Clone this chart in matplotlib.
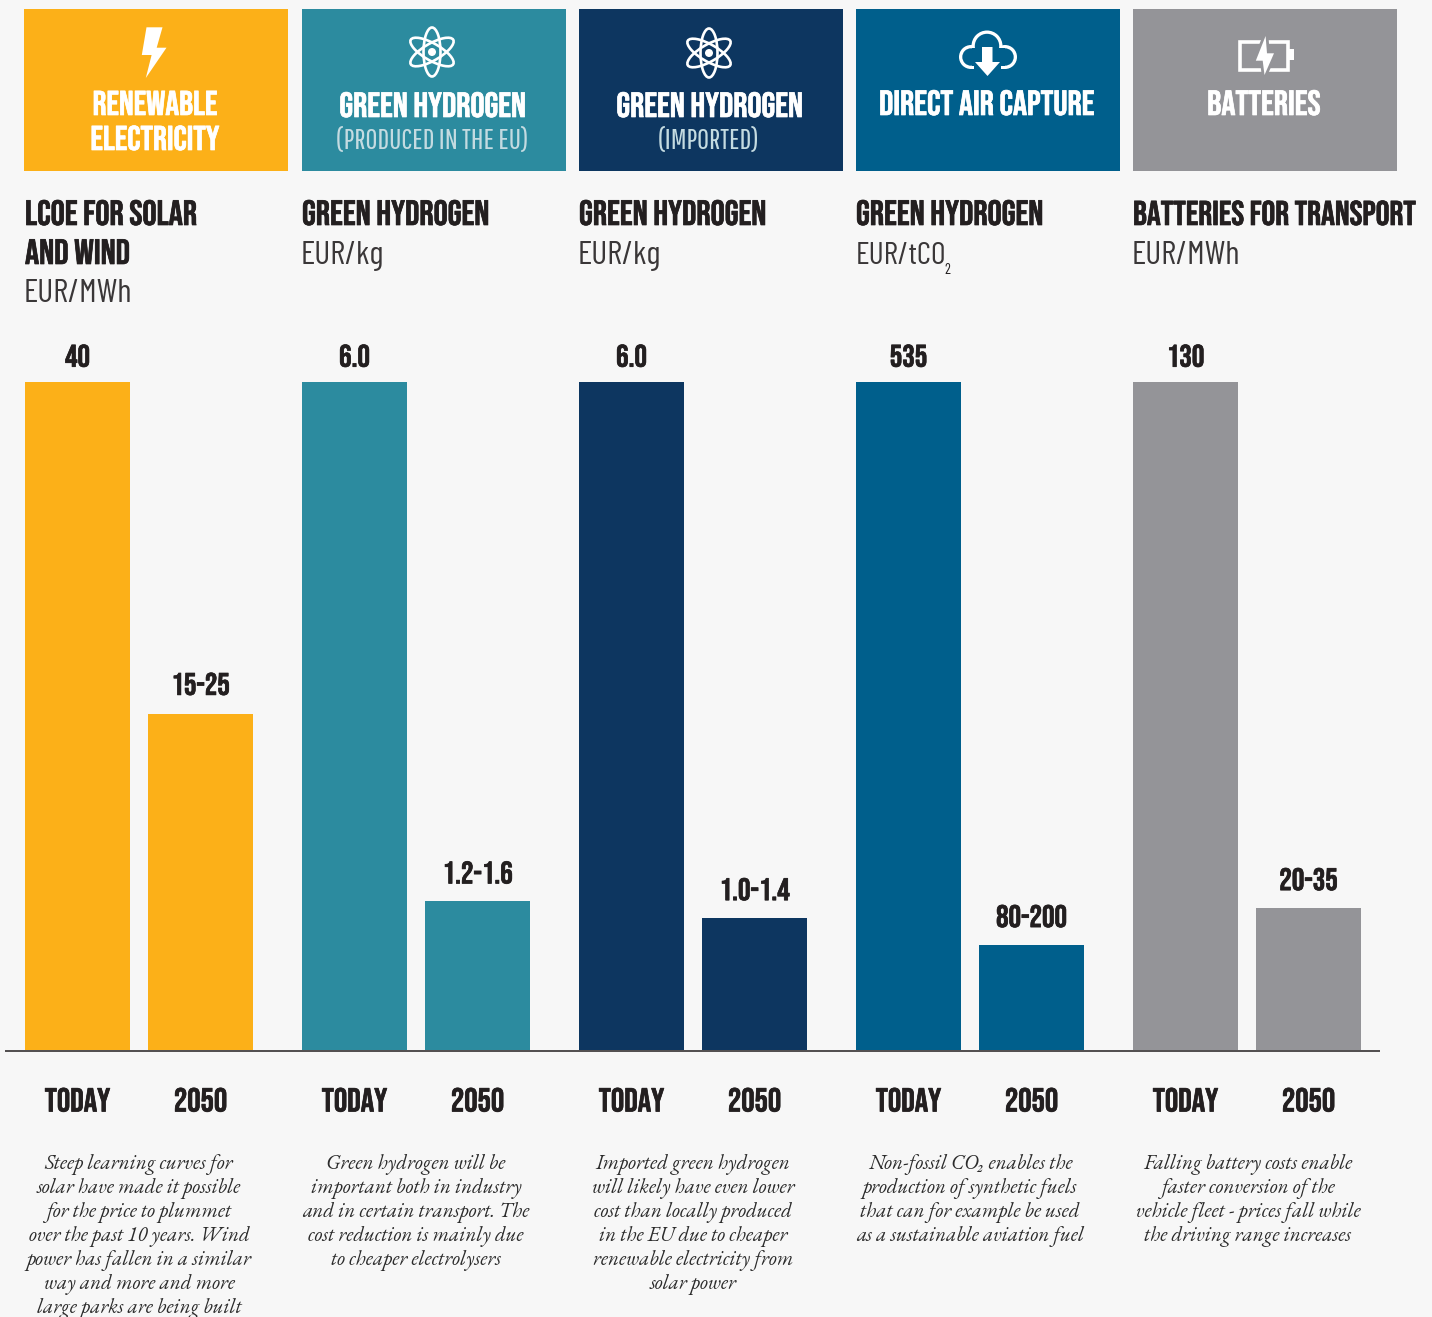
import matplotlib
matplotlib.use("Agg")
import matplotlib.pyplot as plt
import matplotlib.patheffects as pe
from matplotlib.patches import Rectangle, Polygon, Circle, Ellipse

# ---- data ----
panel_names = ["Renewable", "H2 EU", "H2 imported", "DAC", "Batteries"]
today_values = [40, 6.0, 6.0, 535, 130]
future_values = [20.1, 1.34, 1.19, 84, 27.6]
today_labels = ["40", "6.0", "6.0", "535", "130"]
future_labels = ["15-25", "1.2-1.6", "1.0-1.4", "80-200", "20-35"]
tick_labels = ["TODAY", "2050"]
colors = ["#FCB018", "#2C8B9F", "#0D3660", "#005F8C", "#949498"]
header_main = [["RENEWABLE", "ELECTRICITY"], ["GREEN HYDROGEN"], ["GREEN HYDROGEN"],
               ["DIRECT AIR CAPTURE"], ["BATTERIES"]]
header_sub = ["", "(PRODUCED IN THE EU)", "(IMPORTED)", "", ""]
sub_bold = [["LCOE FOR SOLAR", "AND WIND"], ["GREEN HYDROGEN"], ["GREEN HYDROGEN"],
            ["GREEN HYDROGEN"], ["BATTERIES FOR TRANSPORT"]]
sub_unit = ["EUR/MWh", "EUR/kg", "EUR/kg", "EUR/tCO", "EUR/MWh"]
notes = [
    ["Steep learning curves for", "solar have made it possible", "for the price to plummet",
     "over the past 10 years. Wind", "power has fallen in a similar", "way and more and more",
     "large parks are being built"],
    ["Green hydrogen will be", "important both in industry", "and in certain transport. The",
     "cost reduction is mainly due", "to cheaper electrolysers"],
    ["Imported green hydrogen", "will likely have even lower", "cost than locally produced",
     "in the EU due to cheaper", "renewable electricity from", "solar power"],
    ["Non-fossil CO\u2082 enables the", "production of synthetic fuels",
     "that can for example be used", "as a sustainable aviation fuel"],
    ["Falling battery costs enable", "faster conversion of the", "vehicle fleet - prices fall while",
     "the driving range increases"],
]
note_centers = [139, 416, 693, 970, 1248]

# ---- style ----
W, H = 1432, 1317
BG, INK = "#F7F7F7", "#231F20"
HEAD = "Bebas Neue"
THIN = "Pathway Gothic One"
UNIT = "Barlow Condensed"
SERIF = ["EB Garamond", "Liberation Serif"]

fig = plt.figure(figsize=(W / 100, H / 100), dpi=100, facecolor=BG)
ov = fig.add_axes([0, 0, 1, 1], zorder=0)
ov.set_xlim(0, W); ov.set_ylim(H, 0); ov.axis("off")

lefts = [25, 302, 579, 856, 1133]
rect_lefts = [24, 302, 579, 856, 1133]
future_lift = [14, 12.5, 12.5, 13, 13]
BAR_W, STEP, TOP, BASE = 105, 123, 382, 1050


def heavy(color, w=0.5):
    return [pe.withStroke(linewidth=w, foreground=color)]


def t(x, y, s, size, color=INK, ha="left"):
    ov.text(x, y, s, fontsize=size, family=HEAD, color=color, ha=ha, va="baseline",
            path_effects=heavy(color))


def bolt(pts, fc, ec="none", lw=0):
    ov.add_patch(Polygon(pts, closed=True, fc=fc, ec=ec, lw=lw, zorder=5, joinstyle="miter"))


def atom(cx, cy):
    for ang in (0, 60, 120):
        ov.add_patch(Ellipse((cx, cy), 17, 49, angle=ang, fc="none", ec="white", lw=1.9, zorder=4))
    ov.add_patch(Circle((cx, cy), 4, fc="white", ec="none", zorder=5))


for i, c in enumerate(colors):
    left = lefts[i]
    ov.add_patch(Rectangle((rect_lefts[i], 9), 264, 162, fc=c, ec="none"))
    cx = rect_lefts[i] + 132 - (1 if i else 0)
    mains = header_main[i]
    if i == 0:
        t(cx - 1, 115, mains[0], 24.8, "white", "center")
        t(cx - 1, 150, mains[1], 24.8, "white", "center")
    else:
        y = 117 if header_sub[i] else 115
        t(cx, y, mains[0], 25.3, "white", "center")
    if header_sub[i]:
        ov.text(cx - 1, 149, header_sub[i], fontsize=21, family=THIN, color="#C4DBE1",
                ha="center", va="baseline")

    # subtitle block
    for j, s in enumerate(sub_bold[i]):
        t(left, 225 + 39 * j, s, 25.4 if i < 4 else 24.8)
    uy = 224 + 39 * len(sub_bold[i]) + (1 if i else 0)
    ov.text(left - 1 if i != 3 else left, uy, sub_unit[i], fontsize=24 if i != 3 else 22.8,
            fontweight="normal", family=UNIT, color="#3A3738", ha="left", va="baseline")
    if i == 3:
        ov.text(left + 88, uy + 10, "2", fontsize=10.5, family=UNIT, color=INK, ha="left", va="baseline")

    # bars
    frac_w = BAR_W / STEP
    ax = fig.add_axes([left / W, 1 - BASE / H, (BAR_W + STEP) / W, (BASE - TOP) / H],
                      zorder=2, facecolor="none")
    vals = [today_values[i], future_values[i]]
    bars = ax.bar([0, 1], vals, width=frac_w, color=c, linewidth=0)
    ax.set_xlim(-frac_w / 2, 1 + frac_w / 2)
    ax.set_ylim(0, today_values[i])
    ax.set_yticks([])
    for s in ax.spines.values():
        s.set_visible(False)
    ax.set_xticks([0, 1], tick_labels, fontsize=24, family=HEAD, color=INK)
    ax.tick_params(axis="x", length=0, pad=27)
    for lab in ax.get_xticklabels():
        lab.set_path_effects(heavy(INK))
    for b, lab, lift in zip(bars, [today_labels[i], future_labels[i]], [11, future_lift[i]]):
        ax.annotate(lab, (b.get_x() + b.get_width() / 2, b.get_height()), xytext=(0, lift),
                    textcoords="offset points", ha="center", va="baseline", fontsize=22.5,
                    family=HEAD, color=INK, annotation_clip=False, path_effects=heavy(INK))

    # notes
    for j, line in enumerate(notes[i]):
        ov.text(note_centers[i], 1169 + 24 * j, line, fontsize=15, family=SERIF,
                style="italic", color="#2B2B2B", ha="center", va="baseline", clip_on=False)

# baseline
ov.plot([5, 1380], [BASE + 0.5, BASE + 0.5], color=INK, lw=1.1, zorder=3, solid_capstyle="butt")

# icons
bolt([(146.5, 27.3), (162.5, 27.3), (156.7, 47.7), (166.5, 47.7), (145.8, 78), (151.6, 55), (141.8, 55)], "white")
atom(432, 52)
atom(709, 53)

# cloud icon
cb = colors[3]
for (cx, cy, r) in [(971, 57, 12), (987, 46, 15.5), (1005, 57, 12)]:
    ov.add_patch(Circle((cx, cy), r, fc="white", ec="none", zorder=3))
ov.add_patch(Rectangle((972, 50), 33, 19, fc="white", ec="none", zorder=3))
for (cx, cy, r) in [(971, 57, 8.7), (987, 46, 12.2), (1005, 57, 8.7)]:
    ov.add_patch(Circle((cx, cy), r, fc=cb, ec="none", zorder=3.1))
ov.add_patch(Rectangle((972, 48), 33, 17.6, fc=cb, ec="none", zorder=3.1))
ov.add_patch(Rectangle((974, 60), 27, 12, fc=cb, ec="none", zorder=3.2))
bolt([(982, 47), (992.5, 47), (992.5, 62), (1000, 62), (987.5, 76), (975, 62), (982, 62)], "white")

# battery icon
gb = colors[4]
battery_bolt = [(1265.6, 36), (1255.8, 60.7), (1262.7, 60.7), (1264.5, 75), (1274, 53.3), (1267, 53.3)]
ov.add_patch(Rectangle((1240, 41.5), 48, 28, fc="none", ec="white", lw=2.6, zorder=3))
ov.add_patch(Rectangle((1289, 49), 5, 11, fc="white", ec="none", zorder=3))
ov.add_patch(Polygon(battery_bolt, closed=True, fc=gb, ec=gb, lw=4, zorder=4))
bolt(battery_bolt, "white")

fig.savefig("out.png", dpi=100, facecolor=BG)
